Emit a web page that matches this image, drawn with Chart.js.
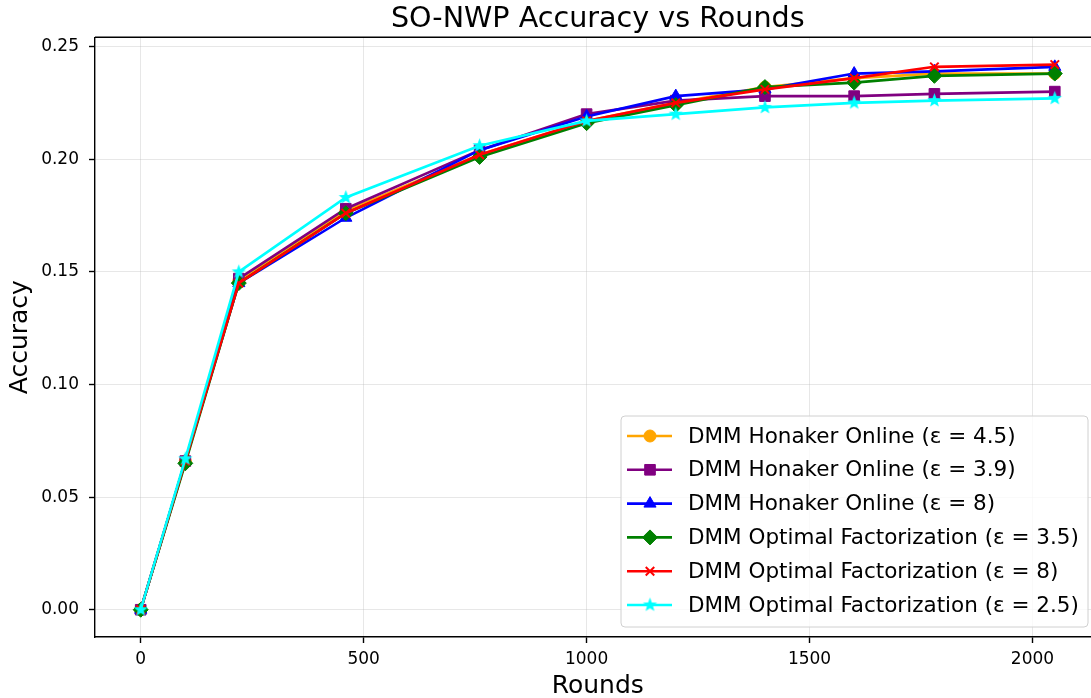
<!DOCTYPE html>
<html>
<head>
<meta charset="utf-8">
<script src="https://cdn.jsdelivr.net/npm/chart.js@4.4.0/dist/chart.umd.min.js"></script>
<style>
  html, body { margin: 0; padding: 0; background: #fff; overflow: hidden; }
  #wrap { width: 1109px; height: 698px; }
</style>
</head>
<body>
<div id="wrap"><canvas id="chart" width="1109" height="698"></canvas></div>
<script>
// data
var rounds = [0, 100, 220, 460, 760, 1000, 1200, 1400, 1600, 1780, 2050];
var honaker45 = [0, 0.066, 0.146, 0.177, 0.202, 0.217, 0.225, 0.232, 0.236, 0.238, 0.238];
var honaker39 = [0, 0.066, 0.147, 0.178, 0.204, 0.220, 0.226, 0.228, 0.228, 0.229, 0.230];
var honaker8 = [0, 0.066, 0.145, 0.174, 0.204, 0.219, 0.228, 0.231, 0.238, 0.239, 0.241];
var optimal35 = [0, 0.065, 0.145, 0.176, 0.201, 0.216, 0.224, 0.232, 0.234, 0.237, 0.238];
var optimal8 = [0, 0.066, 0.145, 0.176, 0.202, 0.217, 0.225, 0.231, 0.236, 0.241, 0.242];
var optimal25 = [0, 0.067, 0.150, 0.183, 0.206, 0.217, 0.220, 0.223, 0.225, 0.226, 0.227];
var seriesLabels = [
    'DMM Honaker Online (ε = 4.5)',
    'DMM Honaker Online (ε = 3.9)',
    'DMM Honaker Online (ε = 8)',
    'DMM Optimal Factorization (ε = 3.5)',
    'DMM Optimal Factorization (ε = 8)',
    'DMM Optimal Factorization (ε = 2.5)'
];
var xTicks = [0, 500, 1000, 1500, 2000];
var yTicks = [0, 0.05, 0.10, 0.15, 0.20, 0.25];

var FONT = 'DejaVu Sans';

// filled five point star like matplotlib '*'
function makeStar(color, r) {
    var c = document.createElement('canvas');
    var s = Math.ceil(r * 2 + 2);
    c.width = s; c.height = s;
    var g = c.getContext('2d');
    g.fillStyle = color;
    g.beginPath();
    for (var i = 0; i < 10; i++) {
        var rad = i % 2 === 0 ? r : r * 0.42;
        var a = -Math.PI / 2 + i * Math.PI / 5;
        var px = s / 2 + rad * Math.cos(a), py = s / 2 + rad * Math.sin(a);
        if (i === 0) g.moveTo(px, py); else g.lineTo(px, py);
    }
    g.closePath();
    g.fill();
    return c;
}

var allSeries = [honaker45, honaker39, honaker8, optimal35, optimal8, optimal25];
var colors = ['orange', 'purple', 'blue', 'green', 'red', 'cyan'];
var styles = ['circle', 'rect', 'triangle', 'rectRot', 'crossRot', makeStar('cyan', 7.5)];
var radii = [6, 7.5, 7, 7.5, 6, 7.5];

var datasets = allSeries.map(function (vals, i) {
    return {
        label: seriesLabels[i],
        data: vals.map(function (v, j) { return { x: rounds[j], y: v }; }),
        borderColor: colors[i],
        backgroundColor: colors[i],
        borderWidth: 2.6,
        pointStyle: styles[i],
        pointRadius: radii[i],
        pointBorderWidth: i === 4 ? 2 : 1,
        pointBorderColor: colors[i],
        pointBackgroundColor: colors[i],
        order: 5 - i,
        tension: 0
    };
});

var frame = {
    id: 'frame',
    afterDatasetsDraw: function (chart) {
        var a = chart.chartArea, ctx = chart.ctx;
        ctx.save();
        ctx.strokeStyle = '#000';
        ctx.lineWidth = 1.4;
        ctx.beginPath();
        ctx.moveTo(a.left, a.top);
        ctx.lineTo(a.right, a.top);
        ctx.lineTo(a.right, a.bottom);
        ctx.stroke();
        ctx.restore();
    }
};

var boxLegend = {
    id: 'boxLegend',
    afterDraw: function (chart) {
        var a = chart.chartArea, ctx = chart.ctx;
        var right = 1088, bottom = a.bottom - 10;
        var w = 467, h = 211;
        var left = right - w, top = bottom - h;
        ctx.save();
        ctx.beginPath();
        ctx.roundRect(left, top, w, h, 4);
        ctx.fillStyle = 'rgba(255,255,255,0.8)';
        ctx.fill();
        ctx.strokeStyle = '#d0d0d0';
        ctx.lineWidth = 1;
        ctx.stroke();
        ctx.font = '21.5px "' + FONT + '"';
        ctx.textBaseline = 'middle';
        chart.data.datasets.forEach(function (ds, i) {
            var y = top + 20 + i * 33.8;
            ctx.strokeStyle = ds.borderColor;
            ctx.lineWidth = 2.6;
            ctx.beginPath();
            ctx.moveTo(left + 6, y);
            ctx.lineTo(left + 51, y);
            ctx.stroke();
            ctx.fillStyle = ds.backgroundColor;
            ctx.lineWidth = ds.pointBorderWidth;
            Chart.helpers.drawPoint(ctx, {
                pointStyle: ds.pointStyle,
                radius: ds.pointRadius,
                rotation: 0,
                borderWidth: ds.pointBorderWidth
            }, left + 29, y);
            ctx.fillStyle = '#000';
            ctx.fillText(ds.label, left + 67, y + 1);
        });
        ctx.restore();
    }
};

function keepTicks(list) {
    return function (axis) {
        axis.ticks = list.map(function (v) { return { value: v }; });
    };
}

var ctx = document.getElementById('chart').getContext('2d');
new Chart(ctx, {
    type: 'line',
    data: { datasets: datasets },
    options: {
        responsive: false,
        animation: false,
        layout: { padding: { left: 0, right: 1, top: 0, bottom: 0 } },
        plugins: {
            legend: { display: false },
            tooltip: { enabled: false },
            title: {
                display: true,
                fullSize: false,
                text: 'SO-NWP Accuracy vs Rounds',
                color: '#000',
                font: { family: FONT, size: 28.6, weight: 'normal' },
                padding: { top: 2, bottom: 1 }
            }
        },
        scales: {
            x: {
                type: 'linear',
                min: -102.5,
                max: 2152.5,
                afterBuildTicks: keepTicks(xTicks),
                afterFit: function (s) { s.height = 61; s.paddingLeft = 0; s.paddingRight = 0; },
                grid: { color: 'rgba(176,176,176,0.3)', lineWidth: 1, tickColor: '#000', tickLength: 6, tickWidth: 1.4 },
                border: { color: '#000', width: 1.4 },
                ticks: {
                    color: '#000',
                    font: { family: FONT, size: 17 },
                    padding: 6,
                    maxRotation: 0,
                    callback: function (v) { return String(v); }
                },
                title: { display: true, text: 'Rounds', color: '#000', font: { family: FONT, size: 25 }, padding: { top: 0, bottom: -3 } }
            },
            y: {
                type: 'linear',
                min: -0.0121,
                max: 0.2541,
                afterBuildTicks: keepTicks(yTicks),
                afterFit: function (s) { s.width = 95; },
                grid: { color: 'rgba(176,176,176,0.3)', lineWidth: 1, tickColor: '#000', tickLength: 6, tickWidth: 1.4 },
                border: { color: '#000', width: 1.4 },
                ticks: {
                    color: '#000',
                    font: { family: FONT, size: 17 },
                    padding: 10,
                    callback: function (v) { return v.toFixed(2); }
                },
                title: { display: true, text: 'Accuracy', color: '#000', font: { family: FONT, size: 25 }, padding: { top: 5, bottom: 0 } }
            }
        }
    },
    plugins: [frame, boxLegend]
});
</script>
</body>
</html>
